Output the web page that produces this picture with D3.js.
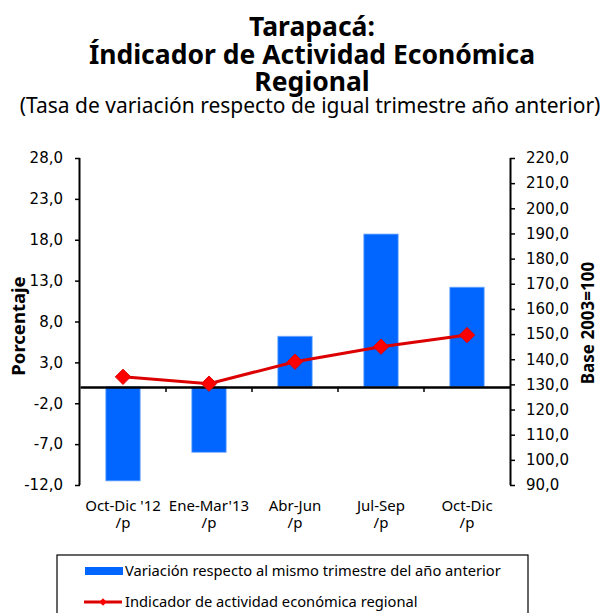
<!DOCTYPE html>
<html>
<head>
<meta charset="utf-8">
<script src="https://cdn.jsdelivr.net/npm/d3@7"></script>
<style>
  body { margin: 0; background: #fff; }
  svg { font-family: "Noto Sans", sans-serif; }
</style>
</head>
<body>
<div id="chart"></div>
<script>
// data
const categories = ["Oct-Dic '12", "Ene-Mar'13", "Abr-Jun", "Jul-Sep", "Oct-Dic"];
const variacion = [-11.5, -8.0, 6.2, 18.7, 12.2];
const indicador = [133.0, 130.3, 139.0, 145.0, 149.6];
const leftTicks = [28, 23, 18, 13, 8, 3, -2, -7, -12];
const rightTicks = [220, 210, 200, 190, 180, 170, 160, 150, 140, 130, 120, 110, 100, 90];

const width = 608, height = 613;
const svg = d3.select('#chart').append('svg')
  .attr('width', width)
  .attr('height', height);

// one decimal, comma separator, plain hyphen for negatives
const fmt = d => (d < 0 ? '-' : '') + Math.abs(d).toFixed(1).replace('.', ',');

// titles
const title = ['Tarapacá:', 'Índicador de Actividad Económica', 'Regional'];
const titleY = [36, 64, 91];
title.forEach((t, i) => {
  svg.append('text')
    .attr('x', 312).attr('y', titleY[i])
    .attr('text-anchor', 'middle')
    .attr('font-size', 26.5).attr('font-weight', 'bold')
    .text(t);
});
svg.append('text')
  .attr('x', 310).attr('y', 113)
  .attr('text-anchor', 'middle')
  .attr('font-size', 21)
  .text('(Tasa de variación respecto de igual trimestre año anterior)');

// scales
const x = d3.scaleBand().domain(categories).range([80, 510]).paddingInner(0.6).paddingOuter(0.3);
const xb = d3.scaleBand().domain(categories).range([80, 510]);
const y = d3.scaleLinear().domain([-12, 28]).range([485, 158]);
const y2 = d3.scaleLinear().domain([90, 220]).range([485, 158]);

// bars
svg.selectAll('rect.bar')
  .data(variacion)
  .enter().append('rect')
  .attr('class', 'bar')
  .attr('x', (d, i) => x(categories[i]))
  .attr('width', x.bandwidth())
  .attr('y', d => y(Math.max(0, d)))
  .attr('height', d => Math.abs(y(d) - y(0)))
  .attr('fill', '#0066ff')
  .attr('stroke', '#7fb2ff')
  .attr('stroke-width', 0.8);

// left axis
const gl = svg.append('g')
  .attr('transform', 'translate(80,0)')
  .call(d3.axisLeft(y).tickValues(leftTicks).tickFormat(fmt).tickSize(5).tickPadding(12));
// right axis
const gr = svg.append('g')
  .attr('transform', 'translate(510,0)')
  .call(d3.axisRight(y2).tickValues(rightTicks).tickFormat(fmt).tickSize(5).tickPadding(11));
[gl, gr].forEach(g => {
  g.select('.domain').attr('stroke', '#000').attr('stroke-width', 2);
  g.selectAll('.tick line').attr('stroke', '#000').attr('stroke-width', 1.5);
  g.selectAll('.tick text').attr('font-size', 15).attr('fill', '#000')
    .attr('font-family', '"DejaVu Sans", sans-serif');
});
gl.select('.domain').attr('d', 'M-0.5,158V485');
gr.select('.domain').attr('d', 'M0.5,158V485');

// zero line with category separators
const gx = svg.append('g')
  .attr('transform', `translate(0,${y(0)})`)
  .call(d3.axisBottom(xb).tickValues([]).tickSizeOuter(0));
gx.select('.domain').attr('stroke', '#000').attr('stroke-width', 2.5);
gx.selectAll('line.sep')
  .data(categories.slice(1))
  .enter().append('line')
  .attr('x1', d => xb(d)).attr('x2', d => xb(d))
  .attr('y1', 0).attr('y2', 5)
  .attr('stroke', '#000').attr('stroke-width', 1.5);

// x labels
categories.forEach(c => {
  const cx = xb(c) + xb.bandwidth() / 2;
  const t = svg.append('text')
    .attr('text-anchor', 'middle')
    .attr('font-size', 15);
  t.append('tspan').attr('x', cx).attr('y', 511).text(c);
  t.append('tspan').attr('x', cx).attr('y', 528).text('/p');
});

// line series
const line = d3.line()
  .x((d, i) => xb(categories[i]) + xb.bandwidth() / 2)
  .y(d => y2(d));
svg.append('path')
  .datum(indicador)
  .attr('d', line)
  .attr('fill', 'none')
  .attr('stroke', '#dd0000')
  .attr('stroke-width', 3);
svg.selectAll('path.pt')
  .data(indicador)
  .enter().append('path')
  .attr('class', 'pt')
  .attr('d', d3.symbol(d3.symbolDiamond2, 150))
  .attr('transform', (d, i) => `translate(${xb(categories[i]) + xb.bandwidth() / 2},${y2(d)})`)
  .attr('fill', '#ff0000')
  .attr('stroke', '#e00000')
  .attr('stroke-width', 1);

// axis titles
svg.append('text')
  .attr('transform', 'translate(25,326) rotate(-90)')
  .attr('text-anchor', 'middle')
  .attr('font-size', 18.5).attr('font-weight', 'bold')
  .text('Porcentaje');
svg.append('text')
  .attr('transform', 'translate(594,323) rotate(-90)')
  .attr('text-anchor', 'middle')
  .attr('font-size', 17).attr('font-weight', 'bold')
  .text('Base 2003=100');

// legend
const lg = svg.append('g');
lg.append('rect')
  .attr('x', 57).attr('y', 555).attr('width', 471).attr('height', 80)
  .attr('fill', '#fff').attr('stroke', '#000').attr('stroke-width', 1.2);
lg.append('rect')
  .attr('x', 85).attr('y', 567).attr('width', 38).attr('height', 8)
  .attr('fill', '#0066ff');
lg.append('text')
  .attr('x', 125).attr('y', 576).attr('font-size', 14.7)
  .text('Variación respecto al mismo trimestre del año anterior');
lg.append('line')
  .attr('x1', 84).attr('x2', 122).attr('y1', 602).attr('y2', 602)
  .attr('stroke', '#dd0000').attr('stroke-width', 3);
lg.append('path')
  .attr('d', d3.symbol(d3.symbolDiamond2, 35))
  .attr('transform', 'translate(103,602)')
  .attr('fill', '#ff0000');
lg.append('text')
  .attr('x', 125).attr('y', 607).attr('font-size', 14.7)
  .text('Indicador de actividad económica regional');
</script>
</body>
</html>
